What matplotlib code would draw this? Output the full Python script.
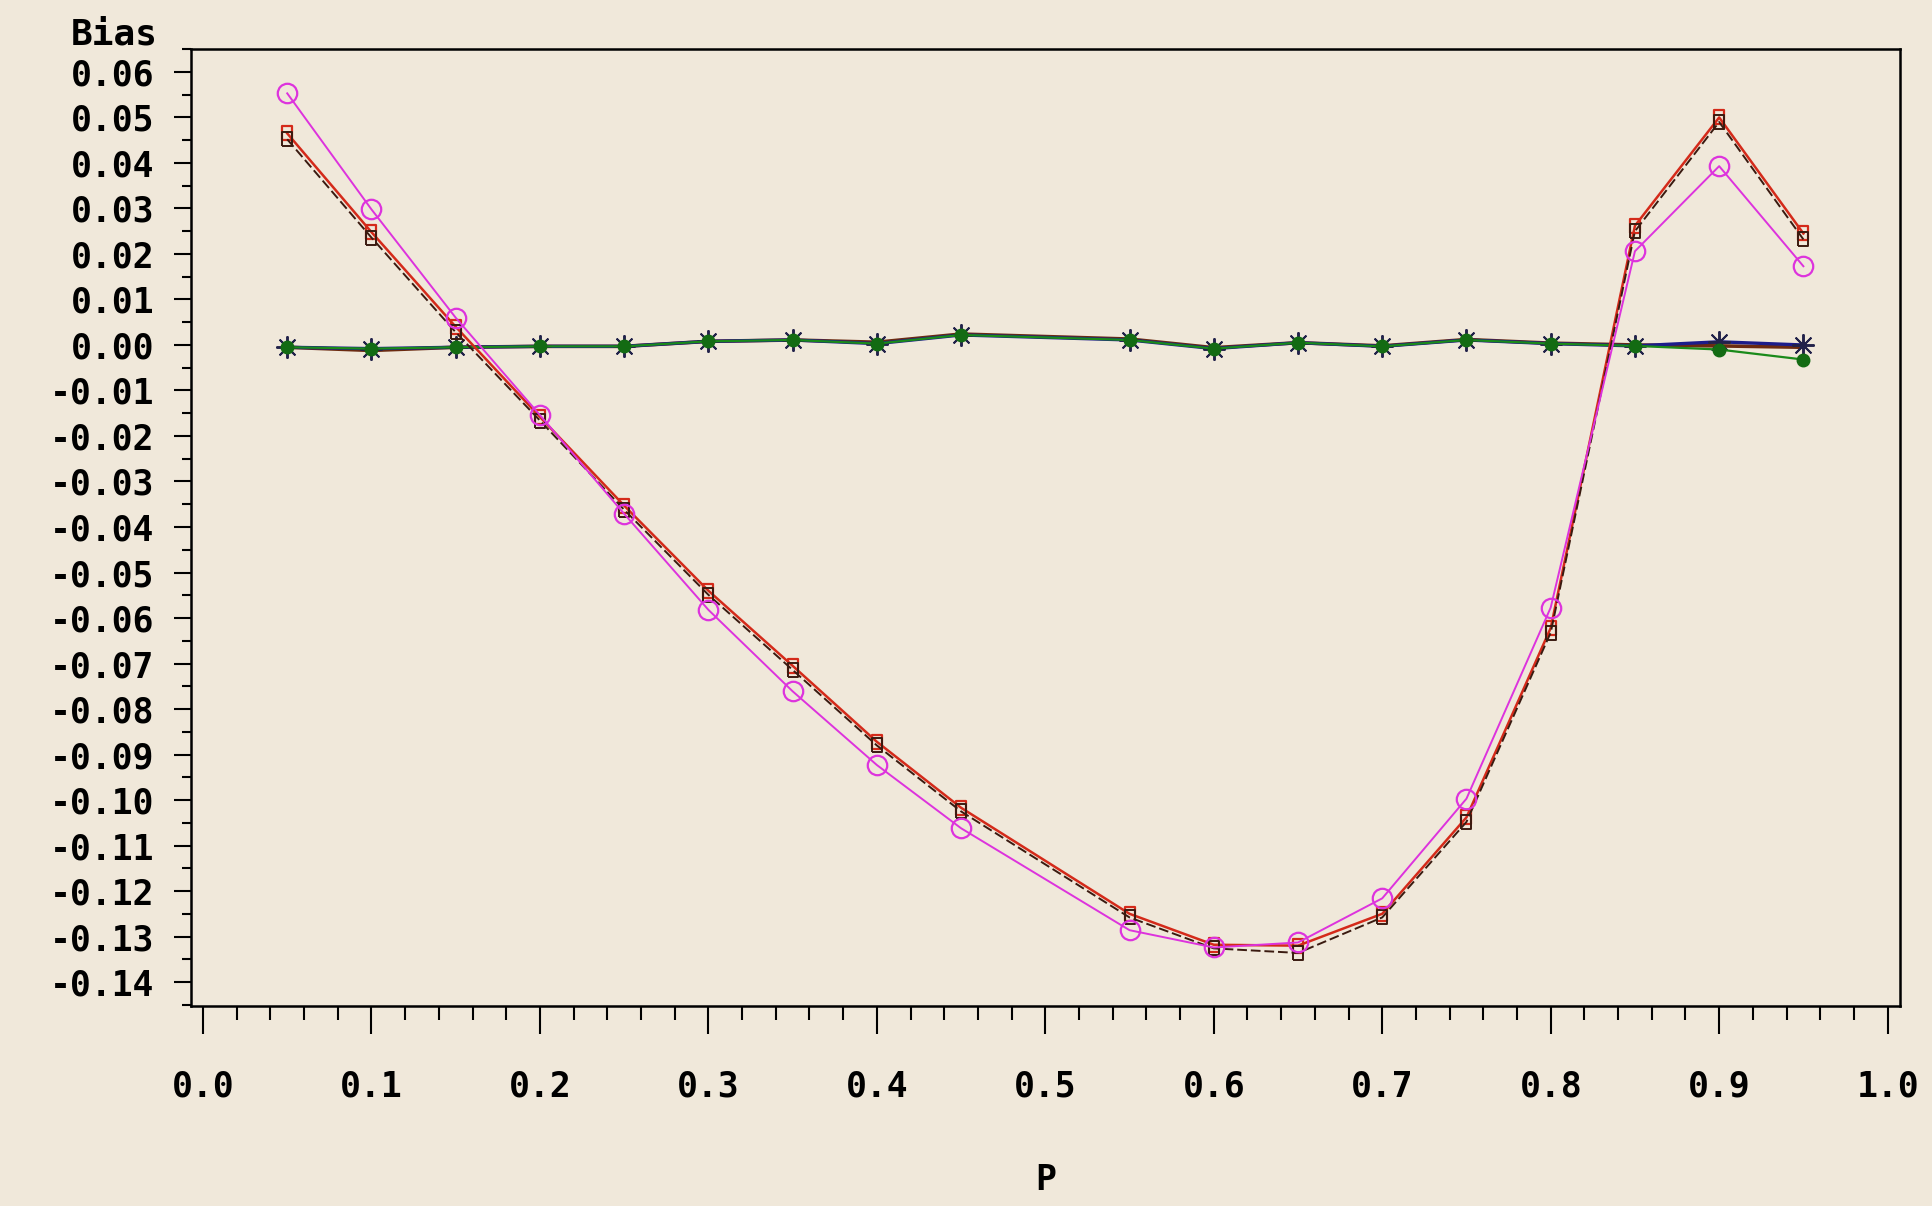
import matplotlib
matplotlib.use("Agg")
import matplotlib.pyplot as plt
from matplotlib.ticker import MultipleLocator

# P values (no point at 0.5)
p = [0.05, 0.10, 0.15, 0.20, 0.25, 0.30, 0.35, 0.40, 0.45,
     0.55, 0.60, 0.65, 0.70, 0.75, 0.80, 0.85, 0.90, 0.95]

bias_magenta = [0.0553, 0.0298, 0.0060, -0.0154, -0.0371, -0.0582, -0.0761, -0.0923, -0.1062,
                -0.1286, -0.1324, -0.1313, -0.1216, -0.0997, -0.0577, 0.0206, 0.0393, 0.0173]
bias_red = [0.0465, 0.0248, 0.0040, -0.0158, -0.0353, -0.0540, -0.0705, -0.0872, -0.1017,
            -0.1250, -0.1318, -0.1320, -0.1250, -0.1038, -0.0622, 0.0262, 0.0500, 0.0245]
bias_black = [0.0452, 0.0236, 0.0028, -0.0166, -0.0362, -0.0549, -0.0714, -0.0880, -0.1025,
              -0.1258, -0.1326, -0.1336, -0.1258, -0.1048, -0.0632, 0.0250, 0.0490, 0.0232]
bias_green = [-0.0005, -0.0008, -0.0005, -0.0003, -0.0003, 0.0008, 0.0011, 0.0003, 0.0022,
              0.0011, -0.0008, 0.0005, -0.0003, 0.0011, 0.0003, -0.0002, -0.0010, -0.0032]
bias_brown = [-0.0005, -0.0012, -0.0005, -0.0003, -0.0003, 0.0008, 0.0011, 0.0006, 0.0024,
              0.0013, -0.0006, 0.0005, -0.0002, 0.0012, 0.0004, 0.0000, -0.0002, -0.0005]
bias_navy = [-0.0005, -0.0008, -0.0005, -0.0003, -0.0003, 0.0008, 0.0011, 0.0003, 0.0022,
             0.0011, -0.0008, 0.0005, -0.0003, 0.0011, 0.0003, -0.0002, 0.0007, 0.0000]

y_ticks = [round(-0.14 + 0.01 * i, 2) for i in range(21)]
x_ticks = [round(0.1 * i, 1) for i in range(11)]

BG = "#F0E8DA"
FONT = "DejaVu Sans Mono"
FS = 25
plt.rcParams["axes.unicode_minus"] = False

fig = plt.figure(figsize=(19.32, 12.06), dpi=100, facecolor=BG)
ax = fig.add_axes([0.0987, 0.1658, 0.9834 - 0.0987, 0.9594 - 0.1658], facecolor=BG)

rect = [(-0.35, -0.5), (0.35, -0.5), (0.35, 0.5), (-0.35, 0.5), (-0.35, -0.5)]

# near-zero series
ax.plot(p, bias_brown, color="#6B2A10", lw=2.6, zorder=2)
ax.plot(p, bias_navy, color="#1C1C8A", lw=2.4, marker=(8, 2, 0), ms=16, mew=1.4,
        mec="#22224A", zorder=3)
ax.plot(p, bias_green, color="#1A8A1A", lw=1.6, marker="o", ms=9, mfc="#136B13",
        mec="#136B13", zorder=4)

# large-bias series
ax.plot(p, bias_red, color="#D42A1A", lw=1.8, marker=rect, ms=10, mfc="none",
        mec="#D42A1A", mew=1.6, zorder=5)
ax.plot(p, bias_black, color="#3A1A10", lw=1.4, ls=(0, (5, 2)), marker=rect, ms=10,
        mfc="none", mec="#3A1A10", mew=1.4, zorder=6)
ax.plot(p, bias_magenta, color="#DD33DD", lw=1.4, marker="o", ms=14, mfc="none",
        mec="#DD33DD", mew=1.6, zorder=7)

ax.set_xlim(-0.0073, 1.0073)
ax.set_ylim(-0.14527, 0.06505)

ax.set_yticks(y_ticks, [f"{v:.2f}" if v != 0 else "0.00" for v in y_ticks])
ax.set_xticks(x_ticks, [f"{v:.1f}" for v in x_ticks])
ax.yaxis.set_minor_locator(MultipleLocator(0.005))
ax.xaxis.set_minor_locator(MultipleLocator(0.02))

ax.tick_params(axis="y", which="major", direction="out", length=12.2, width=1.5, pad=14,
               labelsize=FS, color="black")
ax.tick_params(axis="y", which="minor", direction="out", length=6.5, width=1.5, color="black")
ax.tick_params(axis="x", which="major", direction="out", length=20, width=1.5, pad=26,
               labelsize=FS, color="black")
ax.tick_params(axis="x", which="minor", direction="out", length=10, width=1.5, color="black")
for lab in ax.get_xticklabels() + ax.get_yticklabels():
    lab.set_family(FONT)
    lab.set_fontweight("bold")

for s in ax.spines.values():
    s.set_linewidth(1.8)
    s.set_color("black")

fig.text(0.0815, 0.9718, "Bias", ha="right", va="center", fontsize=FS + 1,
         family=FONT, fontweight="bold")
fig.text(0.541, 0.0216, "P", ha="center", va="center", fontsize=FS,
         family=FONT, fontweight="bold")

fig.savefig("out.png", dpi=100, facecolor=BG)
